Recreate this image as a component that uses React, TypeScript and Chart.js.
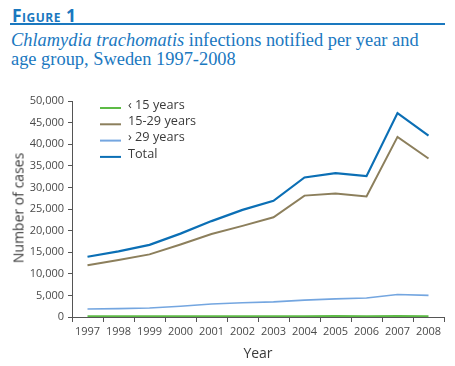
import React, { useEffect, useRef } from "react";
import { Chart, registerables } from "chart.js";

Chart.register(...registerables);

const years = ["1997", "1998", "1999", "2000", "2001", "2002", "2003", "2004", "2005", "2006", "2007", "2008"];
const under15 = [150, 150, 160, 170, 170, 180, 190, 200, 210, 200, 220, 200];
const age15to29 = [12000, 13200, 14500, 16800, 19200, 21100, 23100, 28100, 28600, 27900, 41700, 36700];
const over29 = [1850, 1950, 2100, 2500, 3000, 3300, 3500, 3900, 4200, 4400, 5200, 5000];
const total = [13950, 15200, 16700, 19300, 22200, 24800, 26900, 32300, 33300, 32600, 47200, 42000];
const seriesLabels = ["‹ 15 years", "15-29 years", "› 29 years", "Total"];
const yTicks = [0, 5000, 10000, 15000, 20000, 25000, 30000, 35000, 40000, 45000, 50000];

const SANS = "'Open Sans', 'DejaVu Sans', sans-serif";

const legendPlugin = {
  id: "insideLegend",
  afterDraw(chart: any) {
    const ctx = chart.ctx;
    ctx.save();
    chart.data.datasets.forEach((ds: any, i: number) => {
      const y = 108 + i * 16.3;
      ctx.strokeStyle = ds.borderColor;
      ctx.lineWidth = 2;
      ctx.beginPath();
      ctx.moveTo(100, y);
      ctx.lineTo(121, y);
      ctx.stroke();
      ctx.fillStyle = "#3a3a3a";
      ctx.font = `12.7px ${SANS}`;
      ctx.textBaseline = "middle";
      ctx.textAlign = "left";
      ctx.fillText(ds.label, 128, y - 3);
    });
    ctx.restore();
  },
};

export default function App() {
  const ref = useRef<HTMLCanvasElement>(null);
  useEffect(() => {
    if (!ref.current) return;
    const chart = new Chart(ref.current, {
      type: "line",
      data: {
        labels: years,
        datasets: [
          { label: seriesLabels[0], data: under15, borderColor: "#5dbb46", borderWidth: 2 },
          { label: seriesLabels[1], data: age15to29, borderColor: "#8c7f5c", borderWidth: 2 },
          { label: seriesLabels[2], data: over29, borderColor: "#74a6e0", borderWidth: 1.6 },
          { label: seriesLabels[3], data: total, borderColor: "#0b6fb5", borderWidth: 2.2 },
        ],
      },
      options: {
        responsive: false,
        animation: false,
        layout: { padding: { top: 101, right: 11, left: 0, bottom: 0 } },
        elements: { point: { radius: 0 }, line: { tension: 0 } },
        plugins: { legend: { display: false }, tooltip: { enabled: false } },
        scales: {
          x: {
            type: "category",
            offset: true,
            grid: { offset: true, drawOnChartArea: false, drawTicks: true, tickLength: 5, color: "#555" },
            border: { display: true, color: "#555", width: 1 },
            ticks: { color: "#4a4a4a", font: { size: 11, family: SANS }, maxRotation: 0, autoSkip: false, padding: 3 },
            afterFit: (s: any) => { s.height = 49; },
          },
          y: {
            min: 0,
            max: 50000,
            afterBuildTicks: (s: any) => { s.ticks = yTicks.map((v) => ({ value: v })); },
            grid: { drawOnChartArea: false, drawTicks: true, tickLength: 4, color: "#555" },
            border: { display: true, color: "#555", width: 1 },
            ticks: {
              color: "#4a4a4a",
              font: { size: 11, family: SANS },
              padding: 4,
              callback: (v: any) => Number(v).toLocaleString("en-US"),
            },
            afterFit: (s: any) => { s.width = 72; },
          },
        },
      },
      plugins: [legendPlugin],
    });
    return () => chart.destroy();
  }, []);

  return (
    <div style={{ position: "fixed", left: 0, top: 0, width: 455, height: 366, background: "#fff", overflow: "hidden" }}>
      <div style={{ position: "absolute", left: 12, top: 3, fontFamily: SANS, fontWeight: 700, fontVariant: "small-caps", fontSize: 17.5, color: "#1a78bf", letterSpacing: 0.5 }}>
        Figure 1
      </div>
      <div style={{ position: "absolute", left: 10, top: 23, width: 435, height: 2, background: "#1a78bf" }} />
      <div style={{ position: "absolute", left: 11, top: 31, fontFamily: "'Liberation Serif', 'DejaVu Serif', serif", fontSize: 18.4, lineHeight: "18.5px", color: "#1a78bf" }}>
        <i>Chlamydia trachomatis</i> infections notified per year and<br />age group, Sweden 1997-2008
      </div>
      <canvas ref={ref} width={455} height={366} style={{ position: "absolute", left: 0, top: 0 }} />
      <div style={{ position: "absolute", left: 18, top: 208, transform: "translate(-50%, -50%) rotate(-90deg)", whiteSpace: "nowrap", fontFamily: SANS, fontSize: 14, color: "#3a3a3a" }}>
        Number of cases
      </div>
      <div style={{ position: "absolute", left: 258, top: 352, transform: "translate(-50%, -50%)", fontFamily: SANS, fontSize: 14, color: "#3a3a3a" }}>
        Year
      </div>
    </div>
  );
}
